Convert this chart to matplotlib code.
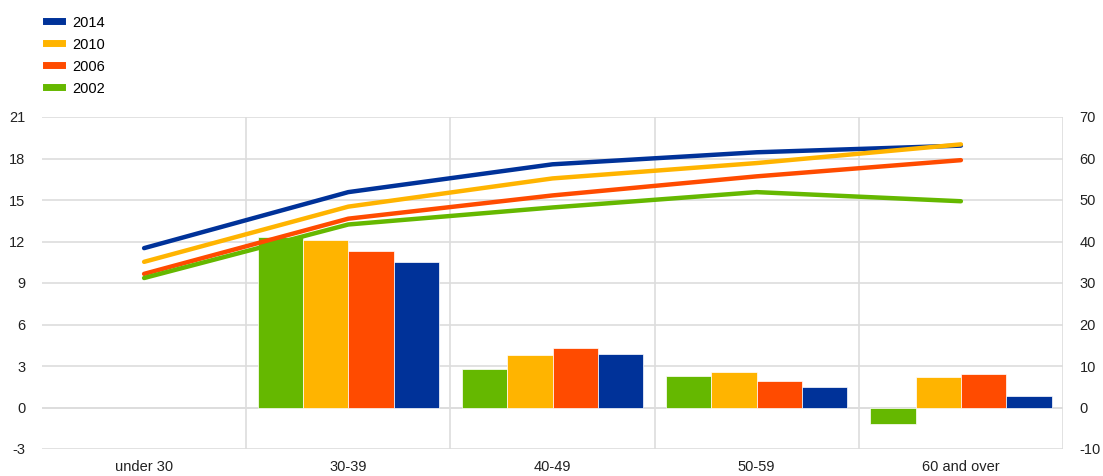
import numpy as np
import matplotlib.pyplot as plt
from matplotlib.lines import Line2D

categories = ["under 30", "30-39", "40-49", "50-59", "60 and over"]
years = ["2002", "2010", "2006", "2014"]  # bar order within a group

# bars, left axis
bars = {
    "2002": [np.nan, 12.3, 2.8, 2.3, -1.2],
    "2010": [np.nan, 12.1, 3.8, 2.6, 2.2],
    "2006": [np.nan, 11.3, 4.3, 1.9, 2.4],
    "2014": [np.nan, 10.5, 3.9, 1.5, 0.8],
}
# lines, right axis
lines = {
    "2014": [38.4, 51.9, 58.6, 61.5, 63.1],
    "2010": [35.1, 48.4, 55.2, 58.9, 63.4],
    "2006": [32.2, 45.5, 51.1, 55.7, 59.6],
    "2002": [31.2, 44.1, 48.2, 51.9, 49.7],
}
colors = {"2014": "#003299", "2010": "#ffb400", "2006": "#ff4b00", "2002": "#65b800"}
left_ticks = [-3, 0, 3, 6, 9, 12, 15, 18, 21]
right_ticks = [-10, 0, 10, 20, 30, 40, 50, 60, 70]

plt.rcParams["font.family"] = ["Liberation Sans", "DejaVu Sans"]
plt.rcParams["axes.unicode_minus"] = False
fig = plt.figure(figsize=(11.03, 4.76), dpi=100)
ax = fig.add_axes([42 / 1103, 1 - 449 / 476, (1063 - 42) / 1103, 332 / 476])
ax2 = ax.twinx()

x = np.arange(len(categories))
w = 0.222
for i, y in enumerate(years):
    ax.bar(x + (i - 1.5) * w, bars[y], width=w, color=colors[y],
           edgecolor="white", linewidth=0.5, zorder=3)

for y in ["2014", "2010", "2006", "2002"]:
    ax2.plot(x, lines[y], color=colors[y], lw=3.2, solid_capstyle="round", zorder=4)

ax.set_xlim(-0.5, len(categories) - 0.5)
ax.set_ylim(-3, 21)
ax2.set_ylim(-10, 70)
ax.set_yticks(left_ticks)
ax2.set_yticks(right_ticks)
ax.set_xticks(x)
ax.set_xticklabels(categories)

ax.yaxis.grid(True, color="#dddddd", lw=1.2, zorder=0)
for b in np.arange(0.5, len(categories), 1.0):
    ax.axvline(b, color="#dddddd", lw=1.2, zorder=0)
ax.axhline(0, color="#dddddd", lw=1.2, zorder=1)

for a in (ax, ax2):
    for s in a.spines.values():
        s.set_visible(False)
    a.tick_params(length=0, labelsize=10.5, colors="#222222")
ax.tick_params(axis="y", pad=12)
ax2.tick_params(axis="y", pad=12)
ax.tick_params(axis="x", pad=8)

handles = [Line2D([], [], color=colors[y], lw=5) for y in ["2014", "2010", "2006", "2002"]]
fig.legend(handles, ["2014", "2010", "2006", "2002"], loc="upper left",
           bbox_to_anchor=(0.03, 0.995), frameon=False, fontsize=10.5,
           handlelength=1.1, labelspacing=0.55, handletextpad=0.7)

fig.savefig("out.png", dpi=100)
